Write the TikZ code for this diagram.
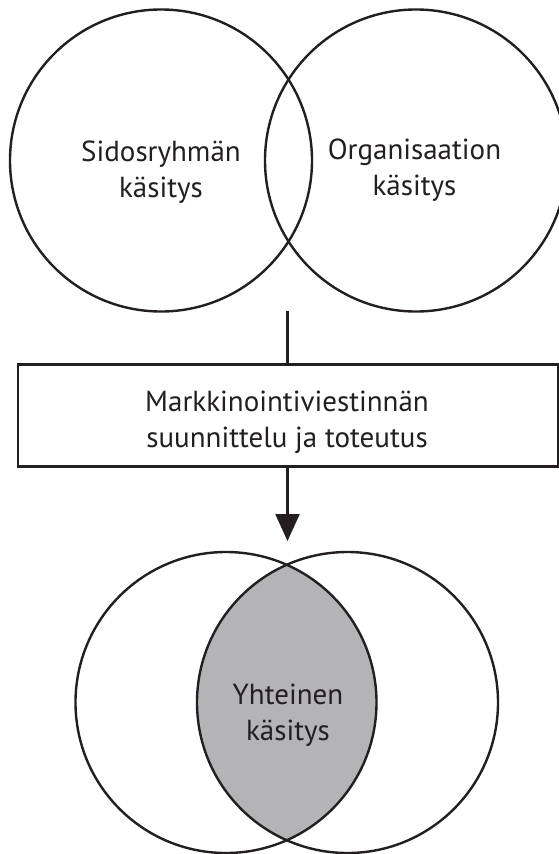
\documentclass[tikz,border=0pt]{standalone}
\usepackage{fontspec}
\setmainfont{PT Sans}
\usetikzlibrary{arrows.meta}
\definecolor{ink}{RGB}{35,31,32}
\definecolor{lensgray}{RGB}{180,180,183}
\tikzset{
  vcircle/.style={circle, draw=ink, line width=2.4pt, inner sep=0pt, minimum size=#1},
  lbl/.style={align=center, text=ink, font=\fontsize{29}{36}\selectfont, inner sep=0pt},
  procbox/.style={rectangle, draw=ink, line width=2.6pt, minimum width=540pt, minimum height=102.5pt, inner sep=0pt},
  conn/.style={draw=ink, line width=2.4pt},
}
\begin{document}
\begin{tikzpicture}[x=1pt, y=-1pt]
\clip (0,0) rectangle (559,854);
\fill[white] (0,0) rectangle (559,854);
% top circles
\node[vcircle=302pt] (sr) at (161,160.5) {};
\node[vcircle=302pt] (org) at (416,160.5) {};
\node[lbl] (srt) at (161,172) {Sidosryhmän\\käsitys};
\node[lbl] (orgt) at (414.5,170) {Organisaation\\käsitys};
% box
\node[procbox] (box) at (288,415.5) {};
\node[lbl] (boxt) at (287,422) {Markkinointiviestinnän\\suunnittelu ja toteutus};
\coordinate (ltop) at (287.5,311);
\coordinate (tip) at (287.5,541);
\draw[conn] (ltop) -- (ltop |- box.north);
\draw[conn, -{Triangle[length=27pt,width=24pt]}, fill=ink] (ltop |- box.south) -- (tip);
% bottom circles with lens
\begin{scope}
  \clip (226,702.5) circle (150.5);
  \fill[lensgray] (347.5,702.5) circle (150.5);
\end{scope}
\node[vcircle=301pt] (yl) at (226,702.5) {};
\node[vcircle=301pt] (yr) at (347.5,702.5) {};
\node[lbl] (yt) at (288,715) {Yhteinen\\käsitys};
\end{tikzpicture}
\end{document}
